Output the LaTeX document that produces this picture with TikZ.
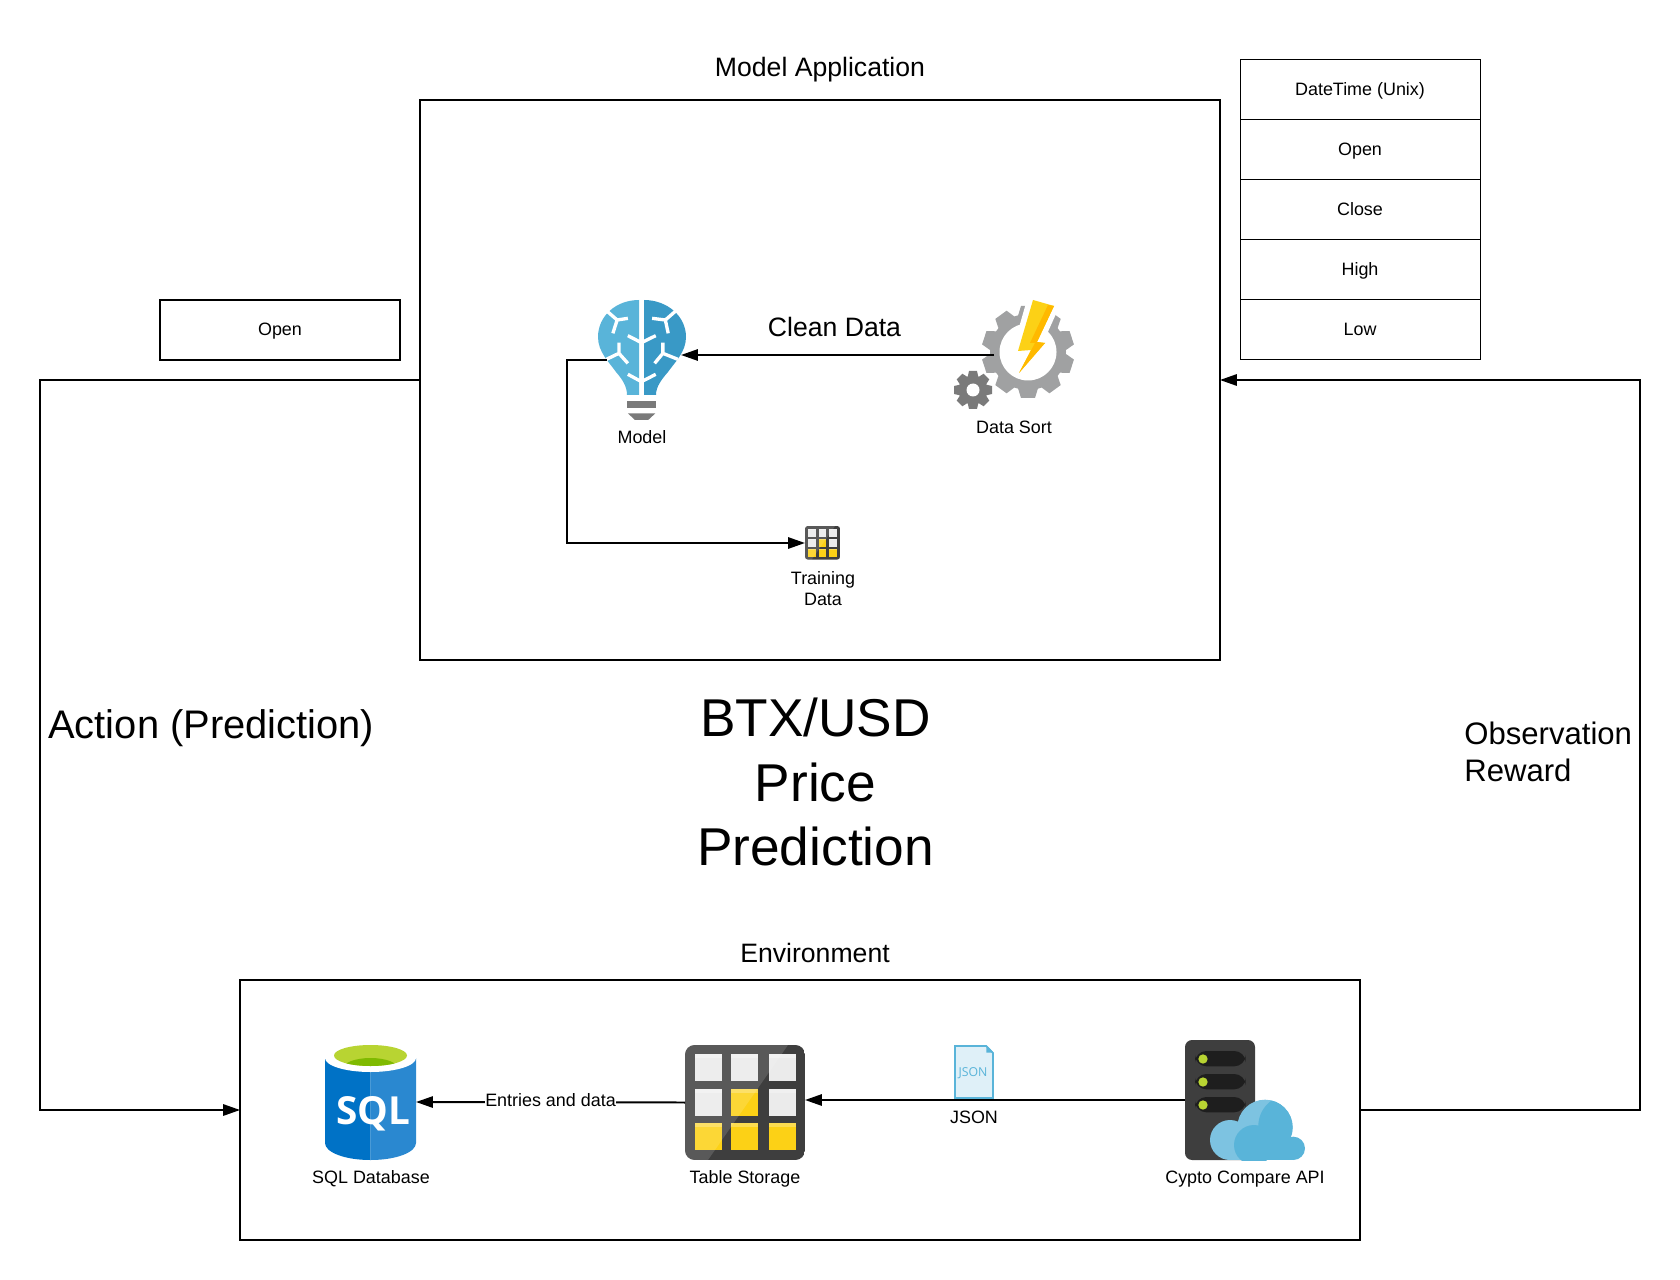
\documentclass[tikz,border=0pt]{standalone}
\usepackage{fontspec}
\setmainfont{Liberation Sans}
\newfontfamily\iconfont{Open Sans}
\usetikzlibrary{arrows.meta}
\definecolor{blueA}{HTML}{59B4D9}
\definecolor{blueB}{HTML}{3999C6}
\definecolor{gearA}{HTML}{A0A1A2}
\definecolor{gearB}{HTML}{7A7A7A}
\definecolor{boltA}{HTML}{FCD116}
\definecolor{boltB}{HTML}{FFB900}
\definecolor{cellA}{HTML}{EBEBEB}
\definecolor{iconA}{HTML}{3E3E3E}
\definecolor{slotA}{HTML}{1E1E1E}
\definecolor{limeA}{HTML}{B8D432}
\definecolor{limeB}{HTML}{7FBA00}
\definecolor{sqlA}{HTML}{0072C6}
\definecolor{sqlB}{HTML}{2A88D0}
\definecolor{cloudA}{HTML}{7DC3E1}
\definecolor{jsonA}{HTML}{DFF0F8}
\tikzset{
  box/.style={draw,line width=1.13pt,inner sep=0pt,outer sep=0pt},
  rowbox/.style={draw,line width=.45pt,inner sep=0pt,outer sep=0pt,minimum width=4.8cm,minimum height=1.2cm,text height=.8em,text depth=.12em,font=\fontsize{10.2}{12}\selectfont},
  icon/.style={inner sep=0pt,outer sep=0pt},
  txt/.style={inner sep=0pt,font=\fontsize{10.2}{12.3}\selectfont},
  bigtxt/.style={inner sep=0pt,font=\fontsize{15.15}{18}\selectfont},
  conn/.style={line width=1.13pt,-{Triangle[length=9.6pt,width=6.4pt]}},
  brainline/.style={white,line width=1.9pt}
}
% one table icon, 120 by 115, origin at its top left corner
\def\gridicon{
  \begin{scope}
    \clip[rounded corners=5.5pt*\gridscale] (0,0) rectangle (120,115);
    \fill[iconA] (0,0) rectangle (120,115);
    \foreach \cx/\cy/\cc in {10/9/cellA,46.4/9/cellA,83.6/9/cellA,10/44/cellA,46.4/44/boltA,83.6/44/cellA,10/78/boltA,46.4/78/boltA,83.6/78/boltA} {
      \fill[\cc] (\cx,\cy) rectangle (\cx+27,\cy+27);
      \fill[white,opacity=.25] (\cx,\cy) rectangle (\cx+27,\cy+4);
    }
    \fill[white,opacity=.14] (0,0) -- (103,0) -- (23,115) -- (0,115) -- cycle;
  \end{scope}
}
\begin{document}
\begin{tikzpicture}[x=0.02cm,y=-0.02cm]
\useasboundingbox (0,0) rectangle (1680,1280);
  \node[box,minimum width=16cm,minimum height=11.2cm] (app) at (820,380) {};
  \node[box,minimum width=22.4cm,minimum height=5.2cm] (env) at (800,1110) {};
  \node[box,minimum width=4.8cm,minimum height=1.2cm,txt,text height=.8em,text depth=.12em] (open) at (280,330) {Open};
  \foreach \y/\t [count=\n] in {89.6/DateTime (Unix),149.6/Open,209.6/Close,269.6/High,329.6/Low} {
    \node[rowbox] (row\n) at (1360,\y) {\t};
  }

  % bulb
  \fill[blueA] (639,300) .. controls (616,300) and (598,316) .. (598,337) .. controls (598,352) and (609,362) .. (616,372) .. controls (623,380) and (627,387) .. (627,395) -- (639,395) -- cycle;
  \fill[blueB] (644,300) .. controls (667,300) and (686,316) .. (686,337) .. controls (686,352) and (675,362) .. (668,372) .. controls (661,380) and (656,387) .. (656,395) -- (644,395) -- cycle;
  \begin{scope}[shift={(560,270)},xscale=1/2.8,yscale=1/3]
    \draw[brainline] (130,122) -- (160,150) -- (190,145) (160,150) -- (148,190);
    \draw[brainline] (325,122) -- (295,150) -- (258,145) (295,150) -- (303,190);
    \draw[brainline] (190,197) -- (228,218) -- (268,197) (190,313) -- (228,335) -- (268,313);
    \draw[brainline] (165,218) -- (165,250) -- (130,268) (165,250) -- (190,280);
    \draw[brainline] (288,218) -- (288,250) -- (330,268) (288,250) -- (265,280);
    \fill[gearB] (188,392) rectangle (270,414);
    \fill[gearB] (190,430) -- (267,430) -- (247,450) -- (210,450) -- cycle;
  \end{scope}
  \node[txt] (modeltext) at (642,437) {Model};

  % gears and bolt
  \foreach \a in {0,36,...,324} {
    \fill[gearA,rotate around={\a:(1028,352)}] (1021,306) -- (1035,306) -- (1039,319) -- (1017,319) -- cycle;
  }
  \fill[gearA] (1028,352) circle (38);
  \fill[white] (1028,352) circle (28.5);
  \foreach \a in {0,45,...,315} {
    \fill[gearB,rotate around={\a:(973,390)}] (969,371) -- (977,371) -- (979,380) -- (967,380) -- cycle;
  }
  \fill[gearB] (973,390) circle (14.5);
  \fill[white] (973,390) circle (6.5);
  \fill[white] (1028,296) -- (1060,305) -- (1042,345) -- (1022,375) -- (1012,352) -- cycle;
  \fill[boltA] (1033,300) -- (1054,306) -- (1037,342) -- (1045,343) -- (1019,373) -- (1031,350) -- (1018,351) -- cycle;
  \fill[boltB] (1048,305) -- (1054,306) -- (1037,342) -- (1045,343) -- (1019,373) -- (1035,343) -- (1030,343) -- cycle;
  \node[txt] (sorttext) at (1014,427) {Data Sort};

  % training data
  \begin{scope}[shift={(805,526)},scale=0.292]
    \def\gridscale{0.292}
    \gridicon
  \end{scope}
  \node[icon,minimum width=.7cm,minimum height=.68cm] (gridicon) at (822.5,543) {};
  \node[txt,align=center,font=\fontsize{10.2}{12}\selectfont] (gridtext) at (823,589) {Training\\Data};

  % environment icons
  \fill[sqlA] (325,1058) -- (370.5,1058) -- (370.5,1160) .. controls (344,1160) and (325,1152) .. (325,1143) -- cycle;
  \fill[sqlB] (416,1058) -- (370.5,1058) -- (370.5,1160) .. controls (397,1160) and (416,1152) .. (416,1143) -- cycle;
  \fill[white] (370.5,1058) circle [x radius=45.5,y radius=14];
  \fill[limeA] (370.5,1055.5) circle [x radius=36.5,y radius=10.5];
  \begin{scope}
    \clip (370.5,1055.5) circle [x radius=36.5,y radius=10.5];
    \fill[limeB] (370.5,1069) circle [x radius=28,y radius=11];
  \end{scope}
  \node[icon,white,font=\iconfont\fontsize{22}{24}\bfseries\selectfont] (sqltext) at (373,1114) {SQL};
  \node[icon,minimum width=1.82cm,minimum height=2.32cm] (sqlicon) at (370.5,1102) {};
  \node[txt] (sqllabel) at (371,1179) {SQL Database};

  \begin{scope}[shift={(685,1045)}]
    \def\gridscale{1}
    \gridicon
  \end{scope}
  \node[icon,minimum width=2.4cm,minimum height=2.3cm] (store) at (745,1102.5) {};
  \node[txt] (storelabel) at (745,1179) {Table Storage};

  \begin{scope}[shift={(920,1020)},scale=1/3]
    \fill[jsonA] (103,76) -- (200,76) -- (221,98) -- (221,236) -- (103,236) -- cycle;
    \draw[blueA,line width=.9pt] (105,78) -- (199,78) -- (219,99) -- (219,234) -- (105,234) -- cycle;
    \fill[blueA] (199,76) -- (221,98) -- (199,98) -- cycle;
  \end{scope}
  \node[icon,text=blueA,font=\iconfont\fontsize{7}{8}\selectfont] (jsontext) at (973,1073) {JSON};
  \node[txt] (jsonlabel) at (974,1117.5) {JSON};

  \begin{scope}[shift={(920,1020)},scale=1/3]
    \fill[iconA,rounded corners=4pt] (795,60) rectangle (1005,420);
    \foreach \sy in {93,162,231} {
      \fill[slotA,rounded corners=6.5pt] (825,\sy) rectangle (977,\sy+46);
      \fill[limeA] (849,\sy+24) circle (14);
    }
    \begin{scope}
      \clip (860,230) rectangle (1160,420);
      \fill[cloudA] (930,360) circle (60);
      \fill[cloudA] (1035,322) circle (83);
      \fill[cloudA] (930,385) rectangle (1120,420);
      \fill[blueA] (1120,385) circle (35);
      \fill[blueA] (1002,375) circle (60);
      \fill[blueA] (1002,385) rectangle (1120,420);
      \clip (1035,322) circle (83);
      \fill[blueA] (1108,318) circle (93);
    \end{scope}
  \end{scope}
  \node[icon,minimum width=1.4cm,minimum height=2.4cm] (server) at (1220,1100) {};
  \node[txt] (serverlabel) at (1245,1179) {Cypto Compare API};

  % connectors
  \draw[conn] (app.west) -- (40,380) -- (40,1110) -- (env.west);
  \draw[conn] (env.east) -- (1640,1110) -- (1640,380) -- (app.east);
  \coordinate (sortport) at (994,355);
  \coordinate (bulbtip) at (681,355);
  \coordinate (bulbport) at (607,360);
  \draw[conn] (sortport) -- (bulbtip);
  \draw[conn] (bulbport) -- (567,360) -- (567,543) -- (gridicon.west);
  \draw[conn] (server.west) -- (store.east |- server.west);
  \draw[conn] (store.west) -- node[txt,fill=white,yshift=1.5pt] (entries) {Entries and data} (sqlicon.east);

  % big labels
  \node[bigtxt] (apptext) at (820,70) {Model Application};
  \node[bigtxt] (envtext) at (815,953) {Environment};
  \node[bigtxt] (cleantext) at (834.5,327) {Clean Data};
  \node[inner sep=0pt,font=\fontsize{30.3}{36.5}\selectfont,align=center] (titletext) at (815.5,782) {BTX/USD\\Price\\Prediction};
  \node[inner sep=0pt,anchor=west,font=\fontsize{22.7}{26}\selectfont] (actiontext) at (48,728.5) {Action (Prediction)};
  \node[inner sep=0pt,anchor=west,align=left,font=\fontsize{17.7}{21}\selectfont] (obstext) at (1464,752) {Observation\\Reward};
\end{tikzpicture}
\end{document}
